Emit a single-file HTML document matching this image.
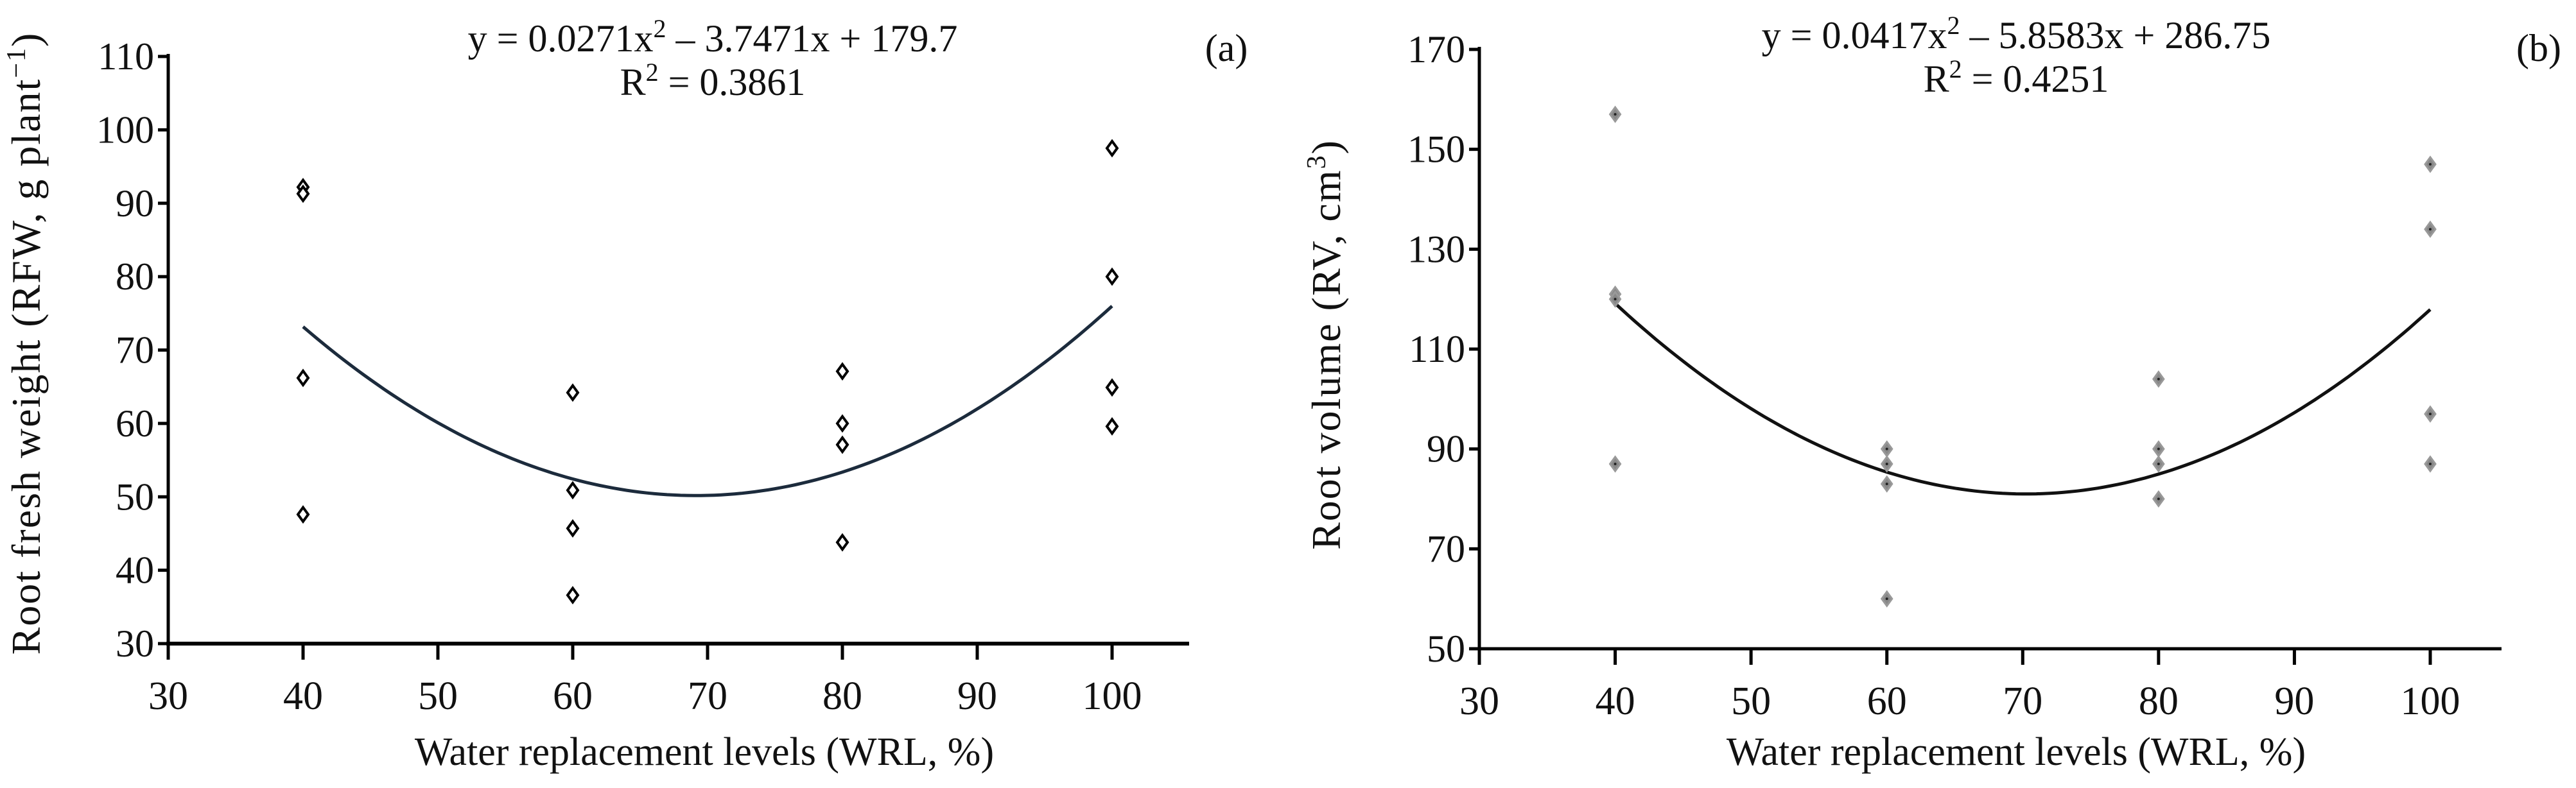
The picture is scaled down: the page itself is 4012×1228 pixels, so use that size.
<!DOCTYPE html>
<html><head><meta charset="utf-8"><style>
html,body{margin:0;padding:0;background:#fff;}
svg text{font-family:"Liberation Serif",serif;fill:#111;}
</style></head><body>
<svg id="chart" width="4012" height="1223" xmlns="http://www.w3.org/2000/svg">
<g id="pa"></g>
<g id="pb"></g>
</svg>
<script>
const xTicks = [30,40,50,60,70,80,90,100];
const aTicks = [30,40,50,60,70,80,90,100,110];
const bTicks = [50,70,90,110,130,150,170];
const levels = [40,60,80,100];
const aValues = [[92.2,91.3,66.2,47.6],[64.2,50.9,45.7,36.6],[67.1,60,57.1,43.8],[97.5,80,64.9,59.6]];
const bValues = [[157,121,120,87],[90,87,83,60],[104,90,87,80],[147,134,97,87]];
const aCoef = [0.0271,-3.7471,179.7];
const bCoef = [0.0417,-5.8583,286.75];
const NS="http://www.w3.org/2000/svg";
function mk(p,tag,attrs){const e=document.createElementNS(NS,tag);for(const k in attrs)e.setAttribute(k,attrs[k]);p.appendChild(e);return e;}
function panel(g,cfg){
  const sx=v=>cfg.x0+(v-30)/70*(cfg.x100-cfg.x0);
  const sy=v=>cfg.yb+(v-cfg.ymin)/(cfg.ymax-cfg.ymin)*(cfg.yt-cfg.yb);
  let l=mk(g,'line',{x1:cfg.x0,y1:cfg.yt-4,x2:cfg.x0,y2:cfg.yb,stroke:'#000','stroke-width':5});
  
  l=mk(g,'line',{x1:cfg.x0-3,y1:cfg.yb,x2:cfg.xend,y2:cfg.yb,stroke:'#000','stroke-width':cfg.xw});
  
  cfg.yticks.forEach(v=>{
    const t=mk(g,'line',{x1:cfg.x0-16,y1:sy(v),x2:cfg.x0,y2:sy(v),stroke:'#000','stroke-width':5});
    
    const tx=mk(g,'text',{x:cfg.x0-22,y:sy(v)+20,'text-anchor':'end','font-size':60});
    tx.textContent=v;
    
  });
  xTicks.forEach(v=>{
    const t=mk(g,'line',{x1:sx(v),y1:cfg.yb,x2:sx(v),y2:cfg.yb+25,stroke:'#000','stroke-width':5});
    
    const tx=mk(g,'text',{x:sx(v),y:cfg.yb+102,'text-anchor':'middle','font-size':62});
    tx.textContent=v;
    
  });
  let d='';
  for(let i=0;i<=120;i++){const x=40+i*0.5;const y=cfg.coef[0]*x*x+cfg.coef[1]*x+cfg.coef[2];d+=(i?'L':'M')+sx(x).toFixed(1)+','+sy(y).toFixed(1);}
  const c=mk(g,'path',{d:d,fill:'none',stroke:cfg.curve,'stroke-width':5});
  
  levels.forEach((lv,i)=>cfg.vals[i].forEach(v=>{
    const cx=sx(lv),cy=sy(v);
    const p=mk(g,'path',{d:`M${cx},${cy-11}L${cx+8},${cy}L${cx},${cy+11}L${cx-8},${cy}Z`,fill:cfg.fill,stroke:cfg.mstroke,'stroke-width':cfg.msw});
    
    if(cfg.dot){const dd=mk(g,'circle',{cx:cx,cy:cy,r:2,fill:'#222'});}
  }));
  let t=mk(g,'text',{x:(cfg.x0+cfg.xend)/2+40,y:1192,'text-anchor':'middle','font-size':62});
  t.textContent='Water replacement levels (WRL, %)';
  t=mk(g,'text',{x:0,y:0,'text-anchor':'middle','font-size':64,'letter-spacing':2,transform:`translate(${cfg.ytx},${cfg.yty}) rotate(-90)`});
  t.innerHTML=cfg.ytitle;
  t=mk(g,'text',{x:cfg.eqx,y:cfg.eqy,'text-anchor':'middle','font-size':60});
  t.innerHTML=cfg.eq;
  t=mk(g,'text',{x:cfg.eqx,y:cfg.eqy+68,'text-anchor':'middle','font-size':60});
  t.innerHTML=cfg.r2;
  t=mk(g,'text',{x:cfg.lx,y:cfg.ly,'text-anchor':'middle','font-size':60});
  t.textContent=cfg.label;
}
panel(document.getElementById('pa'),{x0:262,x100:1732,xend:1852,yt:88,yb:1003,ymin:30,ymax:110,yticks:aTicks,vals:aValues,coef:aCoef,curve:'#1c2b3c',fill:'#fff',mstroke:'#000',msw:4,dot:false,xw:6,
 ytx:62,yty:535,ytitle:'Root fresh weight (RFW, g plant<tspan baseline-shift="super" font-size="42">−1</tspan>)',
 eqx:1110,eqy:80,eq:'y = 0.0271x<tspan baseline-shift="super" font-size="40">2</tspan> – 3.7471x + 179.7',r2:'R<tspan baseline-shift="super" font-size="40">2</tspan> = 0.3861',lx:1910,ly:95,label:'(a)'});
panel(document.getElementById('pb'),{x0:2304,x100:3785,xend:3896,yt:77,yb:1011,ymin:50,ymax:170,yticks:bTicks,vals:bValues,coef:bCoef,curve:'#111',fill:'#888',mstroke:'#999',msw:3,dot:true,xw:5,
 ytx:2087,yty:537,ytitle:'Root volume (RV, cm<tspan baseline-shift="super" font-size="42">3</tspan>)',
 eqx:3140,eqy:75,eq:'y = 0.0417x<tspan baseline-shift="super" font-size="40">2</tspan> – 5.8583x + 286.75',r2:'R<tspan baseline-shift="super" font-size="40">2</tspan> = 0.4251',lx:3954,ly:95,label:'(b)'});
</script>
</body></html>
